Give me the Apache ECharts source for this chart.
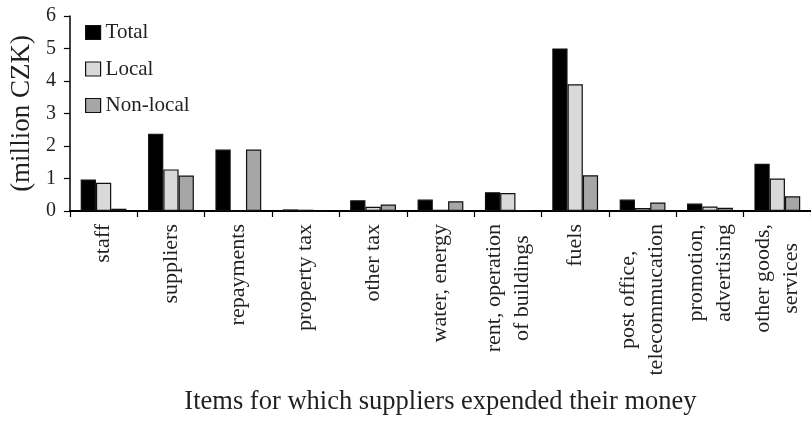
<!DOCTYPE html>
<html>
<head>
<meta charset="utf-8">
<script src="https://cdn.jsdelivr.net/npm/echarts@6/dist/echarts.min.js"></script>
<style>html,body{margin:0;padding:0;background:#fff;}#c{width:811px;height:421px;}</style>
</head>
<body>
<div id="c"></div>
<script>
const categories = ['staff', 'suppliers', 'repayments', 'property tax', 'other tax', 'water, energy',
  'rent, operation\nof buildings', 'fuels', 'post office,\ntelecommucation', 'promotion,\nadvertising', 'other goods,\nservices'];
const totalValues = [0.97, 2.38, 1.89, 0.05, 0.33, 0.35, 0.58, 5.0, 0.35, 0.23, 1.45];
const localValues = [0.87, 1.28, 0, 0.04, 0.13, 0.04, 0.55, 3.9, 0.09, 0.14, 1.0];
const nonLocalValues = [0.07, 1.09, 1.89, 0, 0.2, 0.3, 0.03, 1.1, 0.26, 0.1, 0.45];
const yTicks = [0, 1, 2, 3, 4, 5, 6];

const FONT = 'Liberation Serif';
const TXT = '#231f20';
const chart = echarts.init(document.getElementById('c'));
const mk = (name, data, color) => ({
  name, type: 'bar', data, barGap: '0%', barCategoryGap: '32%',
  itemStyle: { color, borderColor: '#111', borderWidth: 1.2 }
});
chart.setOption({
  animation: false,
  textStyle: { fontFamily: FONT, color: TXT },
  legend: {
    orient: 'vertical', left: 85, top: 22, padding: 0,
    icon: 'rect',
    itemWidth: 15, itemHeight: 14, itemGap: 15.5,
    textStyle: { fontFamily: FONT, fontSize: 21, color: TXT },
    itemStyle: { borderColor: '#111', borderWidth: 1.2 },
    data: ['Total', 'Local', 'Non-local']
  },
  grid: { left: 66, right: -5, top: 16, bottom: 210, containLabel: false },
  xAxis: {
    type: 'category', data: categories,
    name: 'Items for which suppliers expended their money',
    nameLocation: 'middle', nameGap: 178,
    nameTextStyle: { fontFamily: FONT, fontSize: 26.5, color: TXT },
    axisLine: { lineStyle: { color: '#000', width: 2 } },
    axisTick: { show: true, length: 6, lineStyle: { color: '#000', width: 1.2 } },
    axisLabel: {
      rotate: 90, margin: 13, interval: 0,
      formatter: v => v.split('\n').map(l => '{c|' + l + '}').join('\n'),
      rich: { c: { align: 'center', fontFamily: FONT, fontSize: 22, color: TXT, lineHeight: 28 } }
    }
  },
  yAxis: {
    type: 'value', min: yTicks[0], max: yTicks[yTicks.length - 1], interval: 1,
    name: '(million CZK)', nameLocation: 'middle', nameRotate: 90, nameGap: 33,
    nameTextStyle: { fontFamily: FONT, fontSize: 27, color: TXT },
    axisLine: { show: true, lineStyle: { color: '#000', width: 1.5 } },
    axisTick: { show: true, length: 6, lineStyle: { color: '#000', width: 1.2 } },
    axisLabel: { margin: 14, fontFamily: FONT, fontSize: 20, color: TXT },
    splitLine: { show: false }
  },
  series: [
    mk('Total', totalValues, '#000000'),
    mk('Local', localValues, '#d9d9d9'),
    mk('Non-local', nonLocalValues, '#a6a6a6')
  ]
});
</script>
</body>
</html>
